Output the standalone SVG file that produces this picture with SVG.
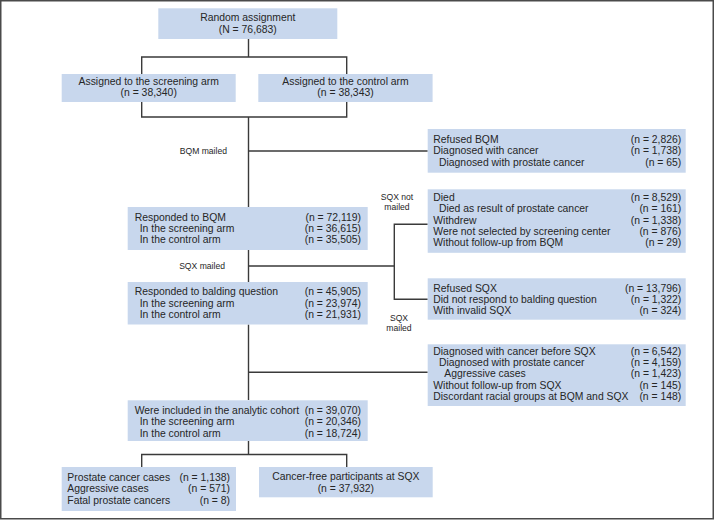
<svg xmlns="http://www.w3.org/2000/svg" width="714" height="520" viewBox="0 0 714 520">
<style>
.box{fill:#c8d7ed;stroke:none}
.t{font-family:"Liberation Sans",Arial,sans-serif;font-size:10.4px;fill:#262626}
.s{font-family:"Liberation Sans",Arial,sans-serif;font-size:8.6px;fill:#262626}
.c{text-anchor:middle}
.r{text-anchor:end}
.ln{fill:none;stroke:#3a3a3a;stroke-width:1.4}
</style>
<rect x="0" y="0" width="714" height="520" fill="#ffffff"/>
<rect x="0.75" y="0.75" width="712.5" height="518" fill="none" stroke="#4a4a4a" stroke-width="1.5"/>

<g id="connectors">
<path class="ln" d="M248.5,39 V57 M141.7,74 V57 H346.7 V74"/>
<path class="ln" d="M141.7,102 V117 H346.7 V102 M248.5,117 V207"/>
<path class="ln" d="M248.5,151 H427.7"/>
<path class="ln" d="M248.5,250 V282"/>
<path class="ln" d="M248.5,266 H394.3 M427.7,224.3 H394.3 V299.3 H427.7"/>
<path class="ln" d="M248.5,324.5 V400"/>
<path class="ln" d="M248.5,372.3 H427.7"/>
<path class="ln" d="M248.5,441 V454.5 M141.7,467 V454.5 H346.7 V467"/>
</g>

<g id="labels">
<text class="s r" x="227" y="154">BQM mailed</text>
<text class="s r" x="225" y="268.5">SQX mailed</text>
<text class="s c" x="397" y="199.5">SQX not</text>
<text class="s c" x="397" y="209.5">mailed</text>
<text class="s c" x="399" y="320.7">SQX</text>
<text class="s c" x="399" y="330.7">mailed</text>
</g>

<g id="random">
<rect class="box" x="158.3" y="8.3" width="179" height="30.7"/>
<text class="t c" x="247.8" y="21.3">Random assignment</text>
<text class="t c" x="247.8" y="32.9">(N = 76,683)</text>
</g>

<g id="screening-arm">
<rect class="box" x="61.7" y="74" width="174" height="28"/>
<text class="t c" x="148.7" y="84.6">Assigned to the screening arm</text>
<text class="t c" x="148.7" y="95.9">(n = 38,340)</text>
</g>

<g id="control-arm">
<rect class="box" x="258.3" y="74" width="174.3" height="28"/>
<text class="t c" x="345.5" y="84.6">Assigned to the control arm</text>
<text class="t c" x="345.5" y="95.9">(n = 38,343)</text>
</g>

<g id="refused-bqm">
<rect class="box" x="427.7" y="129" width="258" height="43.7"/>
<text class="t" x="433.3" y="142.9">Refused BQM</text>
<text class="t r" x="681.3" y="142.9">(n = 2,826)</text>
<text class="t" x="433.3" y="154.3">Diagnosed with cancer</text>
<text class="t r" x="681.3" y="154.3">(n = 1,738)</text>
<text class="t" x="439" y="165.6">Diagnosed with prostate cancer</text>
<text class="t r" x="681.3" y="165.6">(n = 65)</text>
</g>

<g id="responded-bqm">
<rect class="box" x="127.7" y="207" width="240" height="43"/>
<text class="t" x="134.7" y="220.6">Responded to BQM</text>
<text class="t r" x="361" y="220.6">(n = 72,119)</text>
<text class="t" x="139.7" y="231.9">In the screening arm</text>
<text class="t r" x="361" y="231.9">(n = 36,615)</text>
<text class="t" x="139.7" y="243.2">In the control arm</text>
<text class="t r" x="361" y="243.2">(n = 35,505)</text>
</g>

<g id="died">
<rect class="box" x="427.7" y="189.3" width="258" height="63.5"/>
<text class="t" x="433.3" y="201.1">Died</text>
<text class="t r" x="681.3" y="201.1">(n = 8,529)</text>
<text class="t" x="439" y="212.4">Died as result of prostate cancer</text>
<text class="t r" x="681.3" y="212.4">(n = 161)</text>
<text class="t" x="433.3" y="223.7">Withdrew</text>
<text class="t r" x="681.3" y="223.7">(n = 1,338)</text>
<text class="t" x="433.3" y="235">Were not selected by screening center</text>
<text class="t r" x="681.3" y="235">(n = 876)</text>
<text class="t" x="433.3" y="246.3">Without follow-up from BQM</text>
<text class="t r" x="681.3" y="246.3">(n = 29)</text>
</g>

<g id="refused-sqx">
<rect class="box" x="427.7" y="278.3" width="258" height="41.4"/>
<text class="t" x="433.3" y="291.6">Refused SQX</text>
<text class="t r" x="681.3" y="291.6">(n = 13,796)</text>
<text class="t" x="433.3" y="302.9">Did not respond to balding question</text>
<text class="t r" x="681.3" y="302.9">(n = 1,322)</text>
<text class="t" x="433.3" y="314.2">With invalid SQX</text>
<text class="t r" x="681.3" y="314.2">(n = 324)</text>
</g>

<g id="responded-balding">
<rect class="box" x="127.7" y="282" width="240" height="42.5"/>
<text class="t" x="134.7" y="295.3">Responded to balding question</text>
<text class="t r" x="361" y="295.3">(n = 45,905)</text>
<text class="t" x="139.7" y="306.6">In the screening arm</text>
<text class="t r" x="361" y="306.6">(n = 23,974)</text>
<text class="t" x="139.7" y="317.9">In the control arm</text>
<text class="t r" x="361" y="317.9">(n = 21,931)</text>
</g>

<g id="diagnosed-before-sqx">
<rect class="box" x="427.7" y="344.3" width="258" height="61.7"/>
<text class="t" x="433.3" y="354.6">Diagnosed with cancer before SQX</text>
<text class="t r" x="681.3" y="354.6">(n = 6,542)</text>
<text class="t" x="439" y="365.9">Diagnosed with prostate cancer</text>
<text class="t r" x="681.3" y="365.9">(n = 4,159)</text>
<text class="t" x="444.3" y="377.2">Aggressive cases</text>
<text class="t r" x="681.3" y="377.2">(n = 1,423)</text>
<text class="t" x="433.3" y="388.5">Without follow-up from SQX</text>
<text class="t r" x="681.3" y="388.5">(n = 145)</text>
<text class="t" x="433.3" y="399.8">Discordant racial groups at BQM and SQX</text>
<text class="t r" x="681.3" y="399.8">(n = 148)</text>
</g>

<g id="analytic-cohort">
<rect class="box" x="127.7" y="400.3" width="240" height="40.7"/>
<text class="t" x="134.7" y="414.1">Were included in the analytic cohort</text>
<text class="t r" x="361" y="414.1">(n = 39,070)</text>
<text class="t" x="139.7" y="425.4">In the screening arm</text>
<text class="t r" x="361" y="425.4">(n = 20,346)</text>
<text class="t" x="139.7" y="436.7">In the control arm</text>
<text class="t r" x="361" y="436.7">(n = 18,724)</text>
</g>

<g id="prostate-cases">
<rect class="box" x="61.7" y="467" width="174.3" height="44"/>
<text class="t" x="67.3" y="480.9">Prostate cancer cases</text>
<text class="t r" x="230" y="480.9">(n = 1,138)</text>
<text class="t" x="67.3" y="492.3">Aggressive cases</text>
<text class="t r" x="230" y="492.3">(n = 571)</text>
<text class="t" x="67.3" y="503.6">Fatal prostate cancers</text>
<text class="t r" x="230" y="503.6">(n = 8)</text>
</g>

<g id="cancer-free">
<rect class="box" x="259" y="467" width="173.7" height="30.3"/>
<text class="t c" x="345.8" y="480.3">Cancer-free participants at SQX</text>
<text class="t c" x="345.8" y="491.9">(n = 37,932)</text>
</g>
</svg>
